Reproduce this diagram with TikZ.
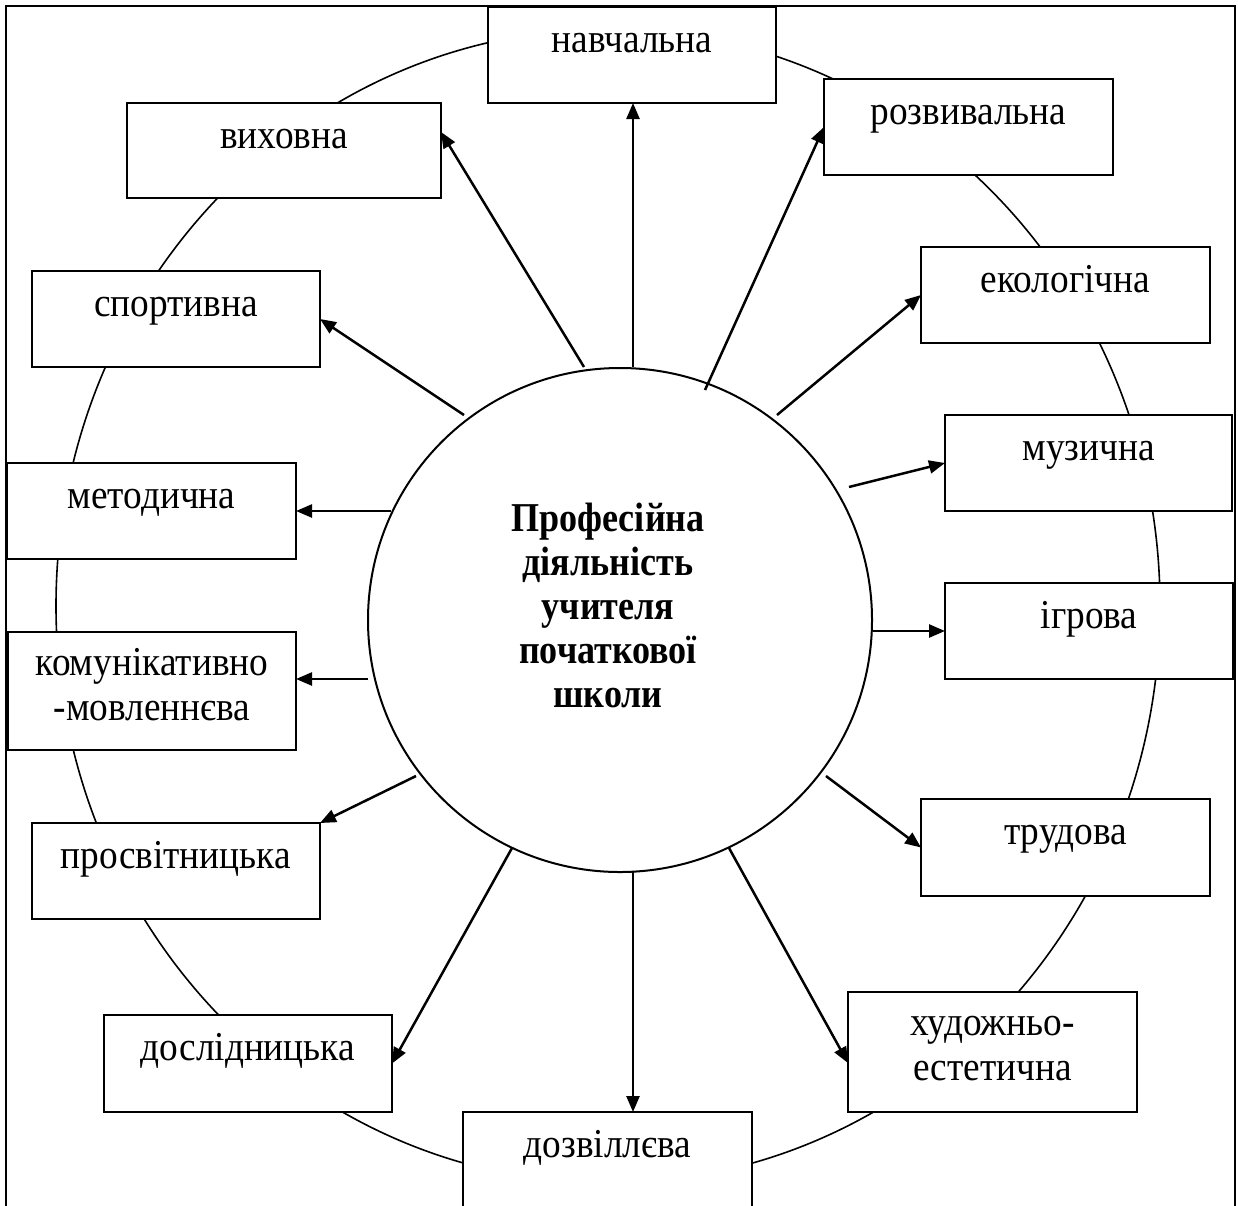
\documentclass[tikz,border=0pt]{standalone}
\usepackage{fontspec}
\setmainfont{Liberation Serif}[FakeStretch=0.91, BoldFeatures={FakeStretch=0.88}]
\usetikzlibrary{arrows.meta,calc,shapes.geometric}
\begin{document}
\begin{tikzpicture}[x=1pt,y=-1pt,
  box/.style={draw, line width=2.2pt, fill=white, inner sep=0pt, outer sep=0pt,
    anchor=north west, text height=45pt, font=\fontsize{41}{45}\selectfont},
  boxtwo/.style={box, text height=43pt},
  arr/.style={-{Triangle[length=16pt,width=13pt]}, line width=2.5pt},
  ring/.style={ellipse, draw, line width=1.6pt, inner sep=0pt},
  core/.style={circle, draw, line width=2pt, fill=white, inner sep=0pt, minimum size=504pt},
  title/.style={anchor=base, inner sep=0pt, font=\fontsize{41}{44}\selectfont\bfseries}]
\useasboundingbox (0,0) rectangle (1238,1205);
% frame
\draw[line width=2.6pt] (6,1215) -- (6,6) -- (1235,6) -- (1235,1215);
% outer ring
\node[ring, minimum width=1104pt, minimum height=1154pt] (rg) at (608,606) {};
% boxes
\node[box, minimum width=288pt, text depth=51pt] (nav) at (488,7) {навчальна};
\node[box, minimum width=314pt, text depth=50pt] (vyk) at (127,103) {виховна};
\node[box, minimum width=289pt, text depth=51pt] (roz) at (824,79) {розвивальна};
\node[box, minimum width=289pt, text depth=51pt] (eko) at (921,247) {екологічна};
\node[box, minimum width=288pt, text depth=51pt] (spo) at (32,271) {спортивна};
\node[box, minimum width=287pt, text depth=51pt] (muz) at (945,415) {музична};
\node[box, minimum width=289pt, text depth=51pt] (met) at (7,463) {методична};
\node[box, minimum width=288pt, text depth=51pt] (igr) at (945,583) {ігрова};
\node[boxtwo, minimum width=288pt, text depth=75pt] (kom) at (8,632)
  {\begin{tabular}[t]{@{}c@{}}комунікативно\\-мовленнєва\end{tabular}};
\node[box, minimum width=289pt, text depth=52pt] (tru) at (921,799) {трудова};
\node[box, minimum width=288pt, text depth=51pt] (pro) at (32,823) {просвітницька};
\node[boxtwo, minimum width=289pt, text depth=77pt] (khu) at (848,992)
  {\begin{tabular}[t]{@{}c@{}}художньо-\\естетична\end{tabular}};
\node[box, minimum width=288pt, text depth=52pt] (dos) at (104,1015) {дослідницька};
\node[box, minimum width=289pt, text depth=65pt] (doz) at (463,1112) {дозвіллєва};
% core
\node[core] (c) at (620,620) {};
\node[title] (ct) at (608,531)
  {\begin{tabular}[t]{@{}c@{}}Професійна\\діяльність\\учителя\\початкової\\школи\end{tabular}};
% arrows
\draw[arr] ($(c.center)+(13,-253)$) coordinate (n0) -- (n0 |- nav.south);
\draw[arr] ($(c.center)+(-36,-253)$) -- ([yshift=-29pt]vyk.north east);
\draw[arr] ($(c.center)+(85,-230)$) -- (roz.west);
\draw[arr] ($(c.center)+(157,-205)$) -- (eko.west);
\draw[arr] ($(c.center)+(-156,-205)$) -- (spo.east);
\draw[arr] ($(c.center)+(229,-133)$) -- (muz.west);
\draw[arr] ($(c.center)+(253,11)$) -- (igr.west);
\draw[arr] ($(c.center)+(206,156)$) -- (tru.west);
\draw[arr] ($(c.center)+(109,228)$) -- ([yshift=-11pt]khu.west);
\draw[arr] ($(c.center)+(13,251)$) coordinate (s0) -- (s0 |- doz.north);
\draw[arr] ($(c.center)+(-108,228)$) -- (dos.east);
\draw[arr] ($(c.center)+(-204,156)$) -- (pro.north east);
\draw[arr] ($(c.center)+(-252,59)$) -- ([yshift=12pt]kom.east);
\draw[arr] ($(c.center)+(-229,-109)$) -- (met.east);
\end{tikzpicture}
\end{document}
